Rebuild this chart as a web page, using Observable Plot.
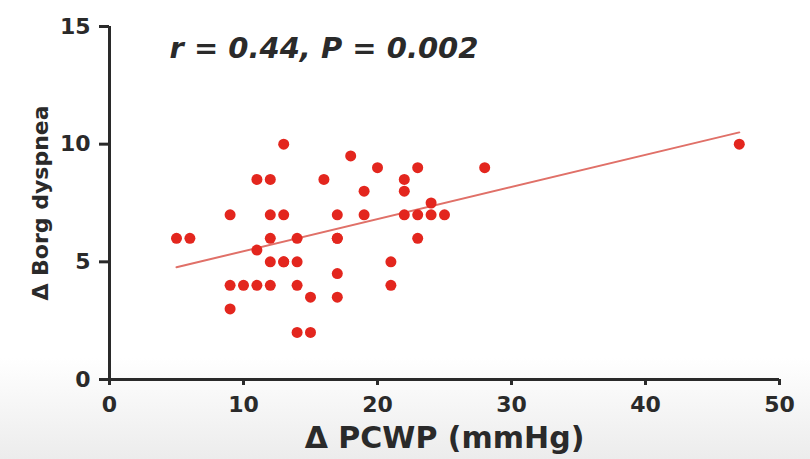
<!DOCTYPE html>
<html>
<head>
<meta charset="utf-8">
<script src="https://cdn.jsdelivr.net/npm/d3@7"></script>
<script src="https://cdn.jsdelivr.net/npm/@observablehq/plot@0.6"></script>
<style>
  html, body { margin: 0; padding: 0; background: #fff; }
  #chart { width: 810px; height: 459px; }
</style>
</head>
<body>
<div id="chart"></div>
<script>
// Δ PCWP (mmHg) values
const pcwp = [5, 6, 9, 9, 9, 10, 11, 12, 11, 12, 13, 12, 13, 11, 12, 14, 12, 13, 14, 14, 15, 14, 15,
              16, 17, 17, 17, 17, 17, 18, 19, 19, 20, 21, 21, 22, 22, 22, 23, 24, 25, 24, 23, 23, 28, 47, 13];
// Δ Borg dyspnea values
const borg = [6, 6, 7, 4, 3, 4, 4, 4, 8.5, 8.5, 10, 7, 7, 5.5, 6, 6, 5, 5, 5, 4, 3.5, 2, 2,
              8.5, 7, 6, 4.5, 3.5, 6, 9.5, 8, 7, 9, 5, 4, 8.5, 8, 7, 7, 7, 7, 7.5, 9, 6, 9, 10, 5];
const points = pcwp.map((x, i) => ({x, y: borg[i]}));

// fitted regression line (endpoints)
const fitX = [5, 47];
const fitY = [4.77, 10.5];
const fit = fitX.map((x, i) => ({x, y: fitY[i]}));

const xTicks = [0, 10, 20, 30, 40, 50];
const yTicks = [0, 5, 10, 15];
const annotation = "r = 0.44, P = 0.002";
const xLabel = "\u0394 PCWP (mmHg)";
const yLabel = "\u0394 Borg dyspnea";

const font = "DejaVu Sans, Liberation Sans, sans-serif";

const chart = Plot.plot({
  width: 810,
  height: 459,
  marginLeft: 109,
  marginRight: 31,
  marginTop: 26,
  marginBottom: 80,
  style: {fontFamily: font, fontWeight: "bold", fontSize: "22px", background: "transparent", color: "#2a2a2a"},
  x: {domain: [0, 50]},
  y: {domain: [0, 15]},
  marks: [
    Plot.line(fit, {x: "x", y: "y", stroke: "#e07068", strokeWidth: 2}),
    Plot.dot(points, {x: "x", y: "y", r: 5.5, fill: "#e3261e", stroke: "none"}),
    Plot.ruleY([0], {stroke: "#2a2a2a", strokeWidth: 3}),
    Plot.ruleX([0], {stroke: "#2a2a2a", strokeWidth: 3}),
    Plot.axisX({ticks: xTicks, tickSize: 6, strokeWidth: 3, tickPadding: 11, fontSize: 22,
      label: null}),
    Plot.axisY({ticks: yTicks, tickSize: 10, strokeWidth: 3, tickPadding: 9, fontSize: 22,
      label: null}),
    Plot.text([xLabel], {frameAnchor: "bottom", dy: 68, fontSize: 30, fontWeight: "bold", fill: "#2a2a2a"}),
    Plot.text([yLabel], {frameAnchor: "left", textAnchor: "middle", dx: -69, rotate: -90, fontSize: 22,
      fontWeight: "bold", fill: "#2a2a2a"}),
    Plot.text([annotation], {frameAnchor: "top-left", dx: 60, dy: 11, fontSize: 29, fontStyle: "italic",
      fontWeight: "bold", fill: "#2a2a2a", textAnchor: "start"})
  ]
});
chart.style.background = "linear-gradient(to bottom, #ffffff 0%, #ffffff 78%, #ececec 100%)";
document.getElementById("chart").appendChild(chart);
</script>
</body>
</html>
